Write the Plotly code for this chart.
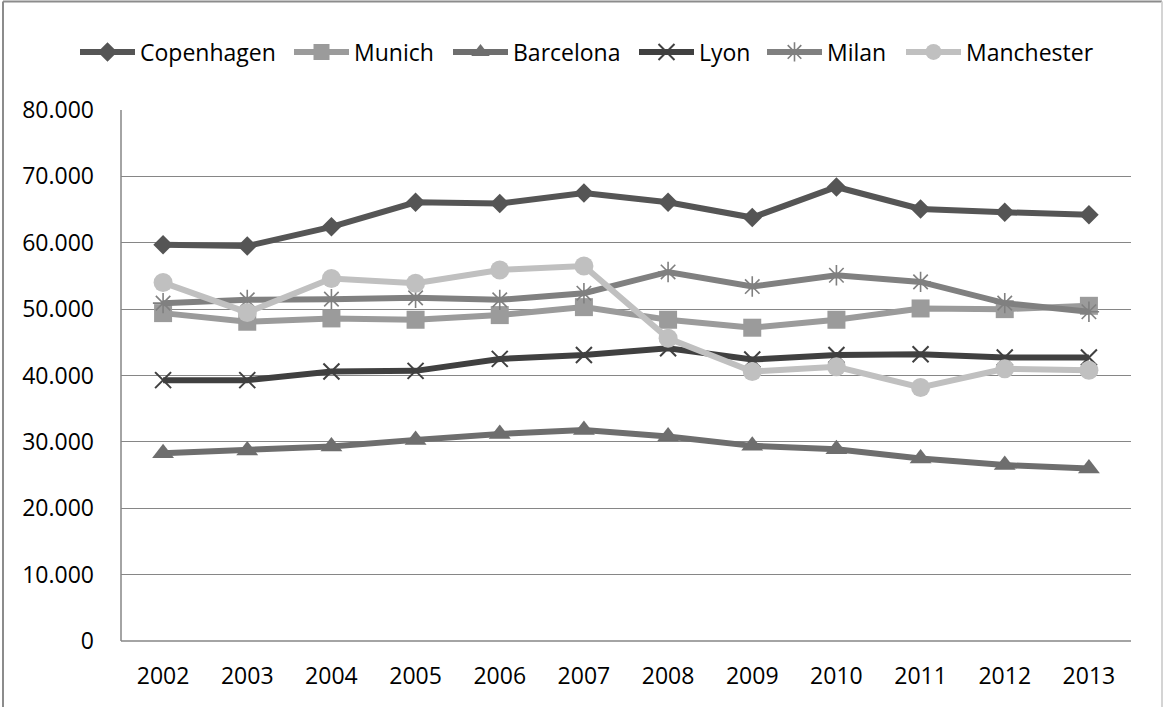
import plotly.graph_objects as go

years = ["2002", "2003", "2004", "2005", "2006", "2007",
         "2008", "2009", "2010", "2011", "2012", "2013"]

copenhagen = [59700, 59500, 62400, 66100, 65900, 67500, 66100, 63800, 68400, 65100, 64600, 64200]
munich = [49400, 48100, 48600, 48400, 49100, 50300, 48400, 47200, 48400, 50100, 50000, 50500]
barcelona = [28300, 28700, 29300, 30300, 31200, 31800, 30800, 29400, 28900, 27500, 26500, 26000]
lyon = [39300, 39300, 40600, 40700, 42500, 43100, 44100, 42400, 43100, 43200, 42700, 42700]
milan = [50900, 51400, 51500, 51700, 51400, 52400, 55600, 53400, 55100, 54100, 50900, 49600]
manchester = [54000, 49500, 54600, 53900, 55900, 56500, 45600, 40600, 41300, 38200, 41000, 40800]

y_ticks = [0, 10000, 20000, 30000, 40000, 50000, 60000, 70000, 80000]

W, H = 1165, 707
L, R, T, B = 121, 1131, 110, 641
pw, ph = R - L, B - T


def px_x(x):
    return (x - L) / pw


def px_y(y):
    return (B - y) / ph


# (name, values, colour, marker style, left edge of its legend entry in px)
series = [
    ("Copenhagen", copenhagen, "#555555", dict(symbol="diamond", size=15), 75),
    ("Munich", munich, "#9b9b9b", dict(symbol="square", size=18), 289),
    ("Barcelona", barcelona, "#6e6e6e", dict(symbol="triangle-up", size=19), 448),
    ("Lyon", lyon, "#404040", dict(symbol="x-thin", size=16,
                                   line=dict(width=2, color="#404040")), 634),
    ("Milan", milan, "#808080", dict(symbol="asterisk", size=17,
                                     line=dict(width=1.6, color="#808080")), 762),
    ("Manchester", manchester, "#c0c0c0", dict(symbol="circle", size=19), 901),
]

fig = go.Figure()
legends = {}
for i, (name, vals, color, mk, lx) in enumerate(series):
    key = "legend" if i == 0 else f"legend{i + 1}"
    fig.add_trace(go.Scatter(
        x=years, y=vals, name=name, mode="lines+markers",
        line=dict(color=color, width=6),
        marker=dict(color=color, **mk),
        legend=key,
    ))
    legends[key] = dict(
        orientation="h", x=px_x(lx), xanchor="left",
        y=px_y(52), yanchor="middle",
        font=dict(family="Open Sans, sans-serif", size=23, color="#000000"),
        bgcolor="rgba(0,0,0,0)", itemwidth=55,
    )

fig.update_layout(
    width=W, height=H,
    margin=dict(l=L, r=W - R, t=T, b=H - B, pad=0),
    paper_bgcolor="white", plot_bgcolor="white",
    separators=",.",
    font=dict(family="Open Sans, sans-serif", size=23, color="#000000"),
    showlegend=True,
    xaxis=dict(
        type="category", categoryorder="array", categoryarray=years,
        range=[-0.5, len(years) - 0.5],
        showgrid=False, showline=False, zeroline=False,
        ticks="", ticklabelstandoff=19,
        tickfont=dict(size=23, color="#000000"),
        fixedrange=True,
    ),
    yaxis=dict(
        range=[0, 80000], tickvals=y_ticks, tickformat=",d",
        showgrid=True, gridcolor="#868686", gridwidth=1.3,
        zeroline=False, showline=False, ticks="",
        ticklabelstandoff=26,
        tickfont=dict(size=23, color="#000000"),
        fixedrange=True,
    ),
    shapes=[
        # vertical value axis line
        dict(type="line", xref="paper", yref="paper", x0=0, x1=0, y0=0, y1=1,
             line=dict(color="#868686", width=1.5)),
        # baseline at zero
        dict(type="line", xref="paper", yref="paper", x0=0, x1=1, y0=0, y1=0,
             line=dict(color="#868686", width=1.5)),
        # outer chart frame
        dict(type="line", xref="paper", yref="paper",
             x0=px_x(3), x1=px_x(1162), y0=px_y(1.5), y1=px_y(1.5),
             line=dict(color="#8c8c8c", width=2)),
        dict(type="line", xref="paper", yref="paper",
             x0=px_x(3), x1=px_x(3), y0=px_y(1.5), y1=px_y(720),
             line=dict(color="#8c8c8c", width=2)),
        dict(type="line", xref="paper", yref="paper",
             x0=px_x(1162), x1=px_x(1162), y0=px_y(1.5), y1=px_y(720),
             line=dict(color="#d4d4d4", width=2)),
    ],
    **legends,
)

fig.write_html("out.html")
